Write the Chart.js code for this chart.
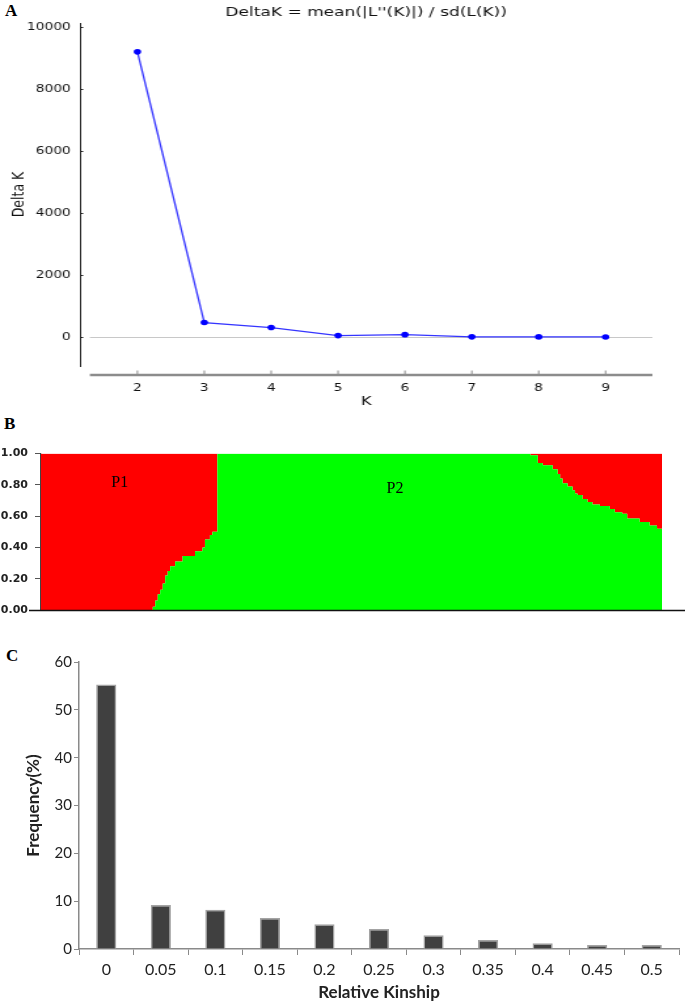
<!DOCTYPE html>
<html>
<head>
<meta charset="utf-8">
<script src="https://cdn.jsdelivr.net/npm/chart.js@4.4.1/dist/chart.umd.min.js"></script>
<style>
    html, body { margin: 0; padding: 0; background: #fff; }
    body { width: 685px; height: 1004px; position: relative; overflow: hidden; }
    .panel-tag { position: absolute; font: bold 17px "Liberation Serif", "Times New Roman", serif; line-height: 1; color: #000; }
    /* panel A was stretched sideways in the source figure, so we stretch it too */
    #wrapA { position: absolute; left: 0; top: 0; width: 523px; height: 415px; transform: scaleX(1.31); transform-origin: 0 0; }
    #wrapB { position: absolute; left: 0; top: 440px; width: 685px; height: 185px; }
    #wrapC { position: absolute; left: 0; top: 640px; width: 685px; height: 364px; }
</style>
</head>
<body>
<div class="panel-tag" style="left:5px;top:2px;">A</div>
<div class="panel-tag" style="left:4px;top:415px;">B</div>
<div class="panel-tag" style="left:6px;top:647px;">C</div>

<div id="wrapA"><canvas id="deltaK" width="523" height="415"></canvas></div>
<div id="wrapB"><canvas id="structure" width="685" height="185"></canvas></div>
<div id="wrapC"><canvas id="kinship" width="685" height="364"></canvas></div>

<script>
// ===== DATA =====
// A: Evanno delta K
const kValues = [2, 3, 4, 5, 6, 7, 8, 9];
const deltaK = [9200, 465, 305, 45, 75, 5, 3, 2];
const deltaTicks = [0, 2000, 4000, 6000, 8000, 10000];

// B: structure plot (K=2), individuals sorted; green = P2 membership, value holds from structPos onward
const structPos = [0, 45, 46, 47, 48, 49, 50, 51, 52, 54, 57, 62, 65, 66, 68, 69, 71,
    197, 200, 202, 206, 208, 209, 210, 212, 214, 215, 216, 218, 220, 222, 225, 229,
    231, 234, 236, 241, 245, 248, 250];
const structQ2 = [0, 0.02, 0.06, 0.10, 0.13, 0.17, 0.22, 0.25, 0.28, 0.31, 0.345, 0.375, 0.40, 0.45, 0.48, 0.50, 1.00,
    0.99, 0.94, 0.925, 0.90, 0.87, 0.84, 0.81, 0.79, 0.765, 0.745, 0.735, 0.71, 0.69, 0.675, 0.665, 0.645,
    0.625, 0.615, 0.585, 0.563, 0.54, 0.52, 0.515];
const structTicks = [0, 0.2, 0.4, 0.6, 0.8, 1.0];
const groupNames = ['P1', 'P2'];
const groupAt = [31.7, 142.5];
const groupLevel = [0.815, 0.777];

// C: relative kinship distribution
const kinshipBins = ['0', '0.05', '0.1', '0.15', '0.2', '0.25', '0.3', '0.35', '0.4', '0.45', '0.5'];
const kinshipFreq = [55.3, 9.2, 8.2, 6.5, 5.2, 4.2, 2.9, 1.9, 1.2, 0.85, 0.85];
const freqTicks = [0, 10, 20, 30, 40, 50, 60];

// ===== PANEL A =====
const deltaAxes = {
    id: 'deltaAxes',
    beforeDatasetsDraw(chart) {
        const { ctx, chartArea: a, scales: { x, y } } = chart;
        const x0 = a.left + 7.6;
        ctx.save();
        // zero reference line
        const yz = Math.round(y.getPixelForValue(0)) + 0.5;
        ctx.strokeStyle = '#c8c8c8';
        ctx.lineWidth = 1;
        ctx.beginPath(); ctx.moveTo(x0, yz); ctx.lineTo(a.right, yz); ctx.stroke();
        // inward y ticks
        ctx.strokeStyle = '#222';
        y.ticks.forEach(t => {
            const py = Math.round(y.getPixelForValue(t.value)) + 0.5;
            ctx.beginPath(); ctx.moveTo(a.left, py); ctx.lineTo(a.left + 2.5, py); ctx.stroke();
        });
        // detached grey x axis bar
        const yb = a.bottom + 9;
        ctx.strokeStyle = '#8c8c8c';
        ctx.lineWidth = 2.7;
        ctx.beginPath(); ctx.moveTo(x0, yb); ctx.lineTo(a.right, yb); ctx.stroke();
        ctx.lineWidth = 1;
        x.ticks.forEach(t => {
            const px = x.getPixelForValue(t.value);
            ctx.beginPath(); ctx.moveTo(px, yb - 1); ctx.lineTo(px, yb - 4.5); ctx.stroke();
        });
        ctx.restore();
    }
};

new Chart(document.getElementById('deltaK'), {
    type: 'line',
    data: {
        datasets: [{
            data: kValues.map((k, i) => ({ x: k, y: deltaK[i] })),
            borderColor: '#3535ff',
            borderWidth: 1.3,
            pointRadius: 2.8,
            pointBackgroundColor: '#0000ff',
            pointBorderWidth: 0,
            tension: 0
        }]
    },
    options: {
        responsive: false,
        animation: false,
        devicePixelRatio: 1,
        layout: { padding: { top: 0, right: 25, bottom: 0, left: 0 } },
        plugins: {
            legend: { display: false },
            tooltip: { enabled: false },
            title: {
                display: true,
                text: "DeltaK = mean(|L''(K)|) / sd(L(K))",
                fullSize: false,
                color: '#111',
                font: { family: 'DejaVu Sans', size: 13, weight: 'normal', lineHeight: 1 },
                padding: { top: 6, bottom: 4 }
            }
        },
        scales: {
            x: {
                type: 'linear',
                min: 1.14,
                max: 9.7,
                grid: { display: false, drawTicks: false },
                border: { display: false },
                afterBuildTicks: s => { s.ticks = kValues.map(v => ({ value: v })); },
                afterFit: s => { s.height = 49; },
                ticks: { padding: 16, autoSkip: false, maxRotation: 0, color: '#111', font: { family: 'DejaVu Sans', size: 10.5 } },
                title: { display: true, text: 'K', color: '#111', font: { family: 'DejaVu Sans', size: 12.5 }, padding: { top: 0, bottom: 6 } }
            },
            y: {
                min: -936,
                max: 10130,
                grid: { display: false, drawTicks: false },
                border: { display: true, color: '#222', width: 1 },
                afterBuildTicks: s => { s.ticks = deltaTicks.map(v => ({ value: v })); },
                afterFit: s => { s.width = 61; },
                ticks: { padding: 7, color: '#111', font: { family: 'DejaVu Sans', size: 10.5 }, callback: v => String(v) },
                title: { display: true, text: 'Delta K', color: '#111', font: { family: 'DejaVu Sans', size: 12.5 }, padding: { top: 7, bottom: 0 } }
            }
        }
    },
    plugins: [deltaAxes]
});

// ===== PANEL B =====
const structFrame = {
    id: 'structFrame',
    afterDatasetsDraw(chart) {
        const { ctx, chartArea: a, scales: { x, y } } = chart;
        ctx.save();
        ctx.strokeStyle = '#111';
        ctx.lineWidth = 1.5;
        ctx.beginPath(); ctx.moveTo(a.left - 12, a.bottom + 0.5); ctx.lineTo(chart.width, a.bottom + 0.5); ctx.stroke();
        ctx.font = '16px "Liberation Serif", "Times New Roman", serif';
        ctx.fillStyle = '#000';
        ctx.textAlign = 'center';
        ctx.textBaseline = 'middle';
        groupNames.forEach((g, i) => {
            ctx.fillText(g, x.getPixelForValue(groupAt[i]), y.getPixelForValue(groupLevel[i]));
        });
        ctx.restore();
    }
};

const structPoints = () => structPos.map((p, i) => ({ x: p, y: structQ2[i] }));

new Chart(document.getElementById('structure'), {
    type: 'line',
    data: {
        datasets: [
            // P2 share, filled down to 0
            { data: structPoints(), stepped: 'before', fill: { target: { value: 0 } }, backgroundColor: '#00ff00', borderColor: 'rgba(0,0,0,0)', borderWidth: 0, pointRadius: 0 },
            // P1 share = the rest up to 1
            { data: structPoints(), stepped: 'before', fill: { target: { value: 1 } }, backgroundColor: '#ff0000', borderColor: 'rgba(0,0,0,0)', borderWidth: 0, pointRadius: 0 }
        ]
    },
    options: {
        responsive: false,
        animation: false,
        devicePixelRatio: 1,
        layout: { padding: { top: 13, right: 23, bottom: 15, left: 0 } },
        plugins: { legend: { display: false }, tooltip: { enabled: false } },
        scales: {
            x: { type: 'linear', min: 0, max: 250, display: false },
            y: {
                min: 0,
                max: 1,
                z: 1,
                grid: { drawOnChartArea: false, tickLength: 6, color: '#555' },
                border: { color: '#444', width: 1.2 },
                afterBuildTicks: s => { s.ticks = structTicks.map(v => ({ value: v })); },
                afterFit: s => { s.width = 41; },
                ticks: {
                    padding: 7,
                    color: '#222',
                    font: { family: 'DejaVu Sans', size: 11, weight: 'bold' },
                    callback: v => v.toFixed(2)
                }
            }
        }
    },
    plugins: [structFrame]
});

// ===== PANEL C =====
new Chart(document.getElementById('kinship'), {
    type: 'bar',
    data: {
        labels: kinshipBins,
        datasets: [{
            data: kinshipFreq,
            backgroundColor: '#404040',
            borderColor: '#a3a3a3',
            borderWidth: 1.5,
            barPercentage: 0.37,
            categoryPercentage: 1
        }]
    },
    options: {
        responsive: false,
        animation: false,
        devicePixelRatio: 1,
        layout: { padding: { top: 22, right: 6, bottom: 0, left: 0 } },
        plugins: { legend: { display: false }, tooltip: { enabled: false } },
        scales: {
            x: {
                grid: { drawOnChartArea: false, tickLength: 6, color: '#8a8a8a' },
                border: { color: '#8a8a8a', width: 1.5 },
                afterFit: s => { s.height = 55; },
                ticks: { padding: 5, autoSkip: false, maxRotation: 0, color: '#222', font: { family: 'Lato', size: 16 } },
                title: { display: true, text: 'Relative Kinship', color: '#222', font: { family: 'Lato', size: 17, weight: 'bold' }, padding: { top: 0, bottom: 1 } }
            },
            y: {
                min: 0,
                max: 60,
                grid: { drawOnChartArea: false, tickLength: 5, color: '#8a8a8a' },
                border: { color: '#8a8a8a', width: 1.5 },
                afterBuildTicks: s => { s.ticks = freqTicks.map(v => ({ value: v })); },
                afterFit: s => { s.width = 79; },
                ticks: { padding: 2, color: '#222', font: { family: 'Lato', size: 15 } },
                title: { display: true, text: 'Frequency(%)', color: '#222', font: { family: 'Lato', size: 17, weight: 'bold' }, padding: { top: 23, bottom: 0 } }
            }
        }
    }
});
</script>
</body>
</html>
